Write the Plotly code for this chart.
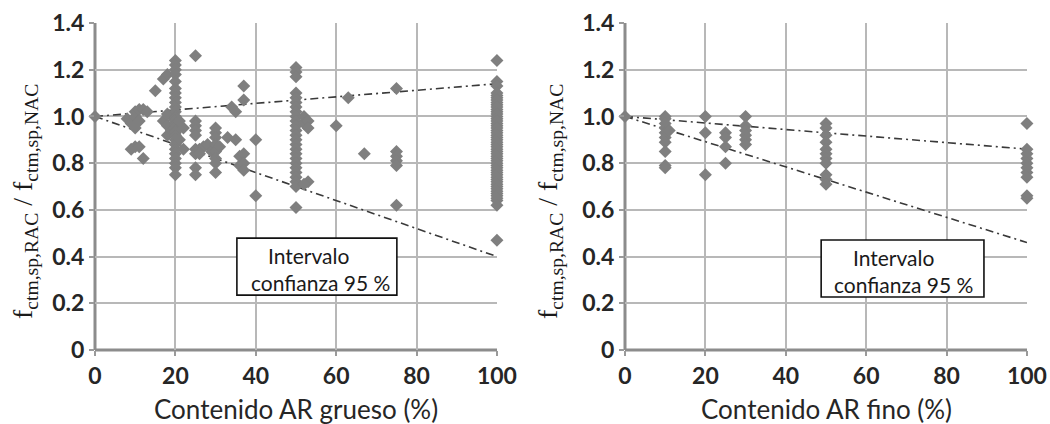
import plotly.graph_objects as go

# ---------------- data ----------------
# Left panel: coarse recycled aggregate content (%) vs strength ratio
coarse_x = ([0] +
            [8, 9, 9, 10, 10, 10, 10, 11, 11, 11, 12, 12, 13] +
            [15, 17, 18, 17, 18, 18, 19, 19, 18] +
            [20] * 28 +
            [21, 22, 21, 22] +
            [25] * 9 +
            [26, 27, 28, 26, 29] +
            [30] * 8 +
            [31, 33, 35, 34, 35, 36, 36] +
            [37] * 5 +
            [40, 40] +
            [50] * 25 +
            [52, 52, 53, 53, 53, 52] +
            [60, 63, 67] +
            [75] * 6 +
            [100] * 52)
coarse_y = ([1.00] +
            [0.99, 0.97, 0.86, 1.00, 1.02, 0.95, 0.87, 1.03, 0.98, 0.87, 1.03, 0.82, 1.02] +
            [1.11, 1.16, 1.18, 0.98, 0.92, 0.96, 1.00, 0.94, 1.01] +
            [1.24, 1.22, 1.20, 1.18, 1.15, 1.12, 1.10, 1.08, 1.06, 1.04, 1.02, 1.00, 0.99, 0.98,
             0.97, 0.96, 0.95, 0.94, 0.93, 0.92, 0.90, 0.88, 0.86, 0.84, 0.82, 0.80, 0.78, 0.75] +
            [0.98, 0.95, 0.90, 0.86] +
            [1.26, 0.98, 0.96, 0.94, 0.92, 0.86, 0.84, 0.78, 0.75] +
            [0.86, 0.87, 0.88, 0.84, 0.85] +
            [0.95, 0.93, 0.91, 0.88, 0.85, 0.82, 0.80, 0.76] +
            [0.87, 0.91, 0.90, 1.04, 1.02, 0.83, 0.79] +
            [1.13, 1.07, 0.84, 0.80, 0.77] +
            [0.90, 0.66] +
            [1.21, 1.19, 1.17, 1.10, 1.08, 1.06, 1.04, 1.02, 1.00, 0.98, 0.96, 0.94, 0.92, 0.90,
             0.88, 0.86, 0.84, 0.82, 0.80, 0.78, 0.76, 0.74, 0.72, 0.70, 0.61] +
            [1.00, 0.97, 0.98, 0.95, 0.72, 0.71] +
            [0.96, 1.08, 0.84] +
            [1.12, 0.85, 0.83, 0.81, 0.79, 0.62] +
            [1.24, 1.15, 1.13, 1.10, 1.09, 1.08, 1.07, 1.06, 1.05, 1.04, 1.03, 1.02, 1.01, 1.00,
             0.99, 0.98, 0.97, 0.96, 0.95, 0.94, 0.93, 0.92, 0.91, 0.90, 0.89, 0.88, 0.87, 0.86,
             0.85, 0.84, 0.83, 0.82, 0.81, 0.80, 0.79, 0.78, 0.77, 0.76, 0.75, 0.74, 0.73, 0.72,
             0.71, 0.70, 0.69, 0.68, 0.67, 0.66, 0.65, 0.64, 0.62, 0.47])

# Right panel: fine recycled aggregate content (%) vs strength ratio
fine_x = ([0] +
          [10] * 10 + [11] +
          [20] * 3 +
          [25] * 4 +
          [30] * 6 +
          [50] * 11 +
          [100] * 10)
fine_y = ([1.00] +
          [1.00, 0.99, 0.97, 0.95, 0.93, 0.91, 0.89, 0.85, 0.79, 0.78] + [0.94] +
          [1.00, 0.93, 0.75] +
          [0.93, 0.91, 0.87, 0.80] +
          [1.00, 0.96, 0.94, 0.92, 0.90, 0.88] +
          [0.97, 0.95, 0.92, 0.89, 0.86, 0.84, 0.82, 0.80, 0.75, 0.73, 0.71] +
          [0.97, 0.86, 0.84, 0.82, 0.80, 0.78, 0.76, 0.74, 0.66, 0.65])

# 95 % confidence interval bounds
ci_x = [0, 100]
coarse_upper = [1.00, 1.14]
coarse_lower = [1.00, 0.40]
fine_upper = [1.00, 0.86]
fine_lower = [1.00, 0.46]

x_ticks = [0, 20, 40, 60, 80, 100]
y_ticks = [0, 0.2, 0.4, 0.6, 0.8, 1.0, 1.2, 1.4]
y_tick_text = ["0", "0.2", "0.4", "0.6", "0.8", "1.0", "1.2", "1.4"]

x_titles = ["Contenido AR grueso (%)", "Contenido AR fino (%)"]
y_title = "f<sub>ctm,sp,RAC</sub> / f<sub>ctm,sp,NAC</sub>"
box_lines = ["Intervalo", "confianza 95 %"]

# ---------------- figure ----------------
W, H = 1050, 424
MARKER = dict(symbol="diamond", size=10, color="#7f7f7f")
CI_LINE = dict(color="#3a3a3a", width=1.6, dash="8px,4px,2px,4px")

fig = go.Figure()
panels = [(coarse_x, coarse_y, coarse_upper, coarse_lower, "x", "y"),
          (fine_x, fine_y, fine_upper, fine_lower, "x2", "y2")]
for px, py, up, lo, xa, ya in panels:
    fig.add_trace(go.Scatter(x=ci_x, y=up, mode="lines", line=CI_LINE,
                             xaxis=xa, yaxis=ya, showlegend=False, hoverinfo="skip"))
    fig.add_trace(go.Scatter(x=ci_x, y=lo, mode="lines", line=CI_LINE,
                             xaxis=xa, yaxis=ya, showlegend=False, hoverinfo="skip"))
    fig.add_trace(go.Scatter(x=px, y=py, mode="markers", marker=MARKER,
                             cliponaxis=False, xaxis=xa, yaxis=ya, showlegend=False))

tickfont = dict(family="Lato", size=23, color="#262626", weight="bold")
ydom = [74 / H, 401 / H]
xdoms = [[95 / W, 497 / W], [625 / W, 1027 / W]]

common_x = dict(range=[0, 100.01], tickvals=x_ticks, showgrid=True, gridcolor="#b8b8b8",
                gridwidth=2, zeroline=False, showline=False, ticks="outside", ticklen=5,
                tickcolor="#9a9a9a", tickwidth=1.5, tickfont=tickfont, automargin=False,
                fixedrange=True)
common_y = dict(range=[0, 1.4001], tickvals=y_ticks, ticktext=y_tick_text, showgrid=True,
                gridcolor="#b8b8b8", gridwidth=2, zeroline=False, showline=False,
                ticks="outside", ticklen=5, tickcolor="#9a9a9a", tickwidth=1.5,
                tickfont=tickfont, automargin=False, fixedrange=True)

fig.update_layout(
    width=W, height=H, paper_bgcolor="white", plot_bgcolor="white",
    margin=dict(l=0, r=0, t=0, b=0),
    xaxis=dict(common_x, domain=xdoms[0], anchor="y"),
    yaxis=dict(common_y, domain=ydom, anchor="x"),
    xaxis2=dict(common_x, domain=xdoms[1], anchor="y2"),
    yaxis2=dict(common_y, domain=ydom, anchor="x2"),
)

# axis lines at x=0 and y=0 (darker, thicker)
for xa, ya in [("x", "y"), ("x2", "y2")]:
    fig.add_shape(type="line", xref=f"{xa} domain", yref=f"{ya} domain",
                  x0=0, x1=0, y0=0, y1=1, line=dict(color="#8c8c8c", width=3), layer="below")
    fig.add_shape(type="line", xref=f"{xa} domain", yref=f"{ya} domain",
                  x0=0, x1=1, y0=0, y1=0, line=dict(color="#8c8c8c", width=3), layer="below")

# x-axis titles
for (x0, x1), txt in zip(xdoms, x_titles):
    fig.add_annotation(xref="paper", yref="paper", x=(x0 + x1) / 2, y=1 - 409 / H,
                       xanchor="center", yanchor="middle", text=txt, showarrow=False,
                       font=dict(family="Lato", size=26, color="#262626"))

# confidence-interval text boxes
boxes = [("x", "y", 35.3, 75.1, 0.235, 0.479, 53.0, 56.0, 0.4025, 0.2869),
         ("x2", "y2", 48.8, 89.3, 0.227, 0.471, 66.7, 69.4, 0.3940, 0.2826)]
for xa, ya, x0, x1, y0, y1, c1, c2, t1, t2 in boxes:
    fig.add_shape(type="rect", xref=xa, yref=ya, x0=x0, x1=x1, y0=y0, y1=y1,
                  line=dict(color="#111111", width=1.6), fillcolor="white", layer="above")
    fig.add_annotation(xref=xa, yref=ya, x=c1, y=t1, text=box_lines[0],
                       xanchor="center", yanchor="middle",
                       showarrow=False, font=dict(family="Lato", size=21, color="#1a1a1a"))
    fig.add_annotation(xref=xa, yref=ya, x=c2, y=t2, text=box_lines[1],
                       xanchor="center", yanchor="middle",
                       showarrow=False, font=dict(family="Lato", size=21, color="#1a1a1a"))

# rotated y titles
for xpix in [25, 550]:
    fig.add_annotation(xref="paper", yref="paper", x=xpix / W, y=1 - 202 / H,
                       xanchor="center", yanchor="middle",
                       text=y_title, textangle=-90, showarrow=False,
                       font=dict(family="Liberation Serif", size=28, color="#1a1a1a"))

fig.write_html("out.html", config={"displayModeBar": False},
               post_script="document.body.style.margin='0px';")
